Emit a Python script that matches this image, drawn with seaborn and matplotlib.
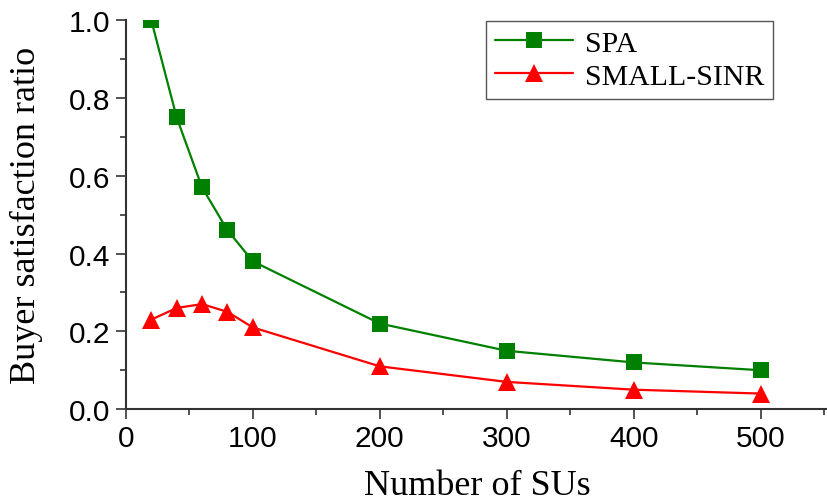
import matplotlib
matplotlib.use("Agg")
import matplotlib.pyplot as plt
from matplotlib.ticker import MultipleLocator, FormatStrFormatter
import seaborn as sns
import pandas as pd

num_sus = [20, 40, 60, 80, 100, 200, 300, 400, 500]
spa = [1.00, 0.75, 0.57, 0.46, 0.38, 0.22, 0.15, 0.12, 0.10]
small_sinr = [0.23, 0.26, 0.27, 0.25, 0.21, 0.11, 0.07, 0.05, 0.04]
series_names = ["SPA", "SMALL-SINR"]

df = pd.DataFrame({
    "Number of SUs": num_sus * 2,
    "ratio": spa + small_sinr,
    "method": [series_names[0]] * len(num_sus) + [series_names[1]] * len(num_sus),
})

sns.set_style("ticks")
plt.rcParams["font.family"] = ["Liberation Sans", "DejaVu Sans"]
plt.rcParams["text.color"] = "black"
plt.rcParams["axes.labelcolor"] = "black"

fig = plt.figure(figsize=(8.28, 5.02), dpi=100)
ax = fig.add_axes([0.152, 0.183, 0.848, 0.775])

sizes = {"SPA": 11, "SMALL-SINR": 13}
sns.lineplot(
    data=df, x="Number of SUs", y="ratio", hue="method", style="method",
    palette={"SPA": "#008000", "SMALL-SINR": "#ff0000"},
    markers={"SPA": "s", "SMALL-SINR": "^"},
    dashes=False, linewidth=1.6, markeredgewidth=0,
    ax=ax,
)
for line, name in zip(ax.lines, series_names):
    line.set_markersize(sizes[name])

ax.set_xlim(0, 553)
ax.set_ylim(0, 1.0)
ax.xaxis.set_major_locator(MultipleLocator(100))
ax.xaxis.set_minor_locator(MultipleLocator(50))
ax.yaxis.set_major_locator(MultipleLocator(0.2))
ax.yaxis.set_minor_locator(MultipleLocator(0.1))
ax.yaxis.set_major_formatter(FormatStrFormatter("%.1f"))
ax.tick_params(which="major", length=7, width=1.2, labelsize=21.5, direction="out",
               colors="#333333", labelcolor="black", pad=4)
ax.tick_params(which="minor", length=4, width=1.2, direction="out", colors="#333333")
for side in ["top", "right"]:
    ax.spines[side].set_visible(False)
for side in ["left", "bottom"]:
    ax.spines[side].set_linewidth(1.5)
    ax.spines[side].set_color("#333333")

ax.set_xlabel("Number of SUs", fontsize=26, family=["Liberation Serif"], labelpad=12)
ax.set_ylabel("Buyer satisfaction ratio", fontsize=26, family=["Liberation Serif"], labelpad=19)

handles, labels = ax.get_legend_handles_labels()
leg = ax.legend(
    handles, labels, loc="upper right", bbox_to_anchor=(0.922, 0.998),
    prop={"family": "Liberation Serif", "size": 21.5},
    frameon=True, fancybox=False, edgecolor="#555555", framealpha=1,
    handlelength=2.6, handletextpad=0.4, borderpad=0.3, labelspacing=0.2,
    borderaxespad=0,
)
leg.get_frame().set_linewidth(1.0)
for h, name in zip(leg.legend_handles, labels):
    h.set_markersize(sizes[name])

fig.savefig("out.png", dpi=100)
